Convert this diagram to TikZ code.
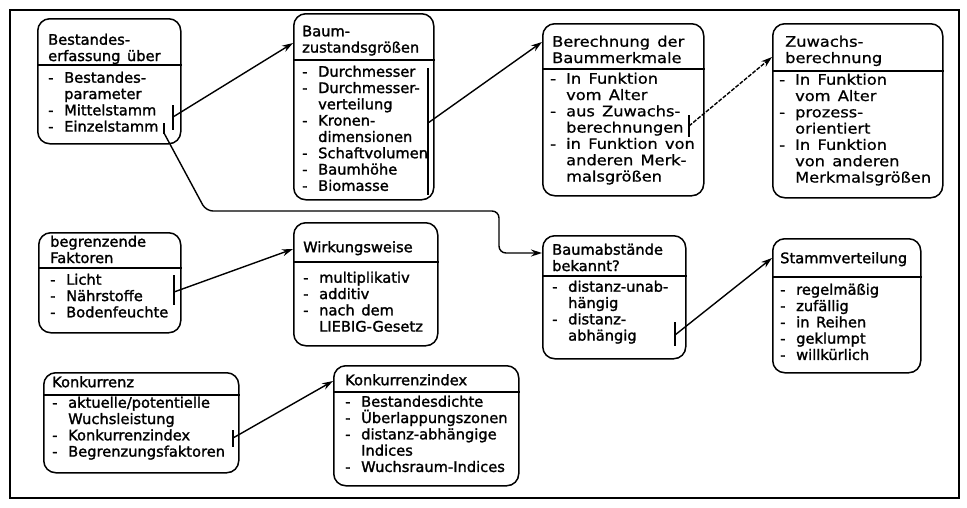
\documentclass[tikz,border=0pt]{standalone}
\usepackage{fontspec}
\setmainfont{DejaVu Sans}
\newfontfamily\regfont{DejaVu Sans}[WordSpace=1.4, FakeBold=1.6, FakeStretch=1.01]
\newfontfamily\widefont{DejaVu Sans}[WordSpace=1.4, FakeBold=0.8, FakeStretch=1.12]
\usetikzlibrary{arrows.meta}
\newcommand\myitem[1]{\makebox[16pt][l]{-}#1}
\newcommand\mycont[1]{\hspace*{16pt}#1}
\begin{document}
\begin{tikzpicture}[x=1pt,y=-1pt,
 box/.style={draw, line width=1.5pt, rounded corners=12pt, inner sep=0pt, anchor=north west},
 txt/.style={anchor=north west, yshift=11.5pt, inner sep=0pt, align=left, font=\fontsize{14.5}{16.3}\regfont, execute at begin node={\rule{0pt}{11.5pt}}},
 wide/.style={font=\fontsize{14.5}{16.3}\widefont},
 sepline/.style={line width=1.3pt},
 tickmark/.style={line width=1.5pt},
 conn/.style={line width=1.4pt, -{Stealth[length=11pt,width=7pt]}},
 faint/.style={dash pattern=on 4pt off 1.5pt},
 frame/.style={draw, line width=1.6pt, inner sep=0pt, anchor=north west}]
\useasboundingbox (0,0) rectangle (967,507);
\node[frame, minimum width=949pt, minimum height=488pt] (frm) at (9,9) {};

% boxes
\node[box, minimum width=143pt, minimum height=125pt] (b1) at (37,18) {};
\node[box, minimum width=140pt, minimum height=186pt] (b2) at (293,13) {};
\node[box, minimum width=161pt, minimum height=172pt] (b3) at (542,23) {};
\node[box, minimum width=170pt, minimum height=174pt] (b4) at (772,23) {};
\node[box, minimum width=142pt, minimum height=100pt] (b5) at (38,232) {};
\node[box, minimum width=144pt, minimum height=123pt] (b6) at (293,222) {};
\node[box, minimum width=143pt, minimum height=123pt] (b7) at (542,235) {};
\node[box, minimum width=148pt, minimum height=134pt] (b8) at (772,238) {};
\node[box, minimum width=195pt, minimum height=100pt] (b9) at (43,372) {};
\node[box, minimum width=185pt, minimum height=120pt] (b10) at (333,365) {};

% separators
\draw[sepline] (b1.west |- 0,65) -- (b1.east |- 0,65);
\draw[sepline] (b2.west |- 0,60) -- (b2.east |- 0,60);
\draw[sepline] (b3.west |- 0,69) -- (b3.east |- 0,69);
\draw[sepline] (b4.west |- 0,71) -- (b4.east |- 0,71);
\draw[sepline] (b5.west |- 0,268) -- (b5.east |- 0,268);
\draw[sepline] (b6.west |- 0,262) -- (b6.east |- 0,262);
\draw[sepline] (b7.west |- 0,276) -- (b7.east |- 0,276);
\draw[sepline] (b8.west |- 0,277) -- (b8.east |- 0,277);
\draw[sepline] (b9.west |- 0,395) -- (b9.east |- 0,395);
\draw[sepline] (b10.west |- 0,392) -- (b10.east |- 0,392);

% texts
\node[txt] (h1) at (48,45) {Bestandes-\\erfassung über};
\node[txt] (l1) at (48,83) {\myitem{Bestandes-}\\\mycont{parameter}\\\myitem{Mittelstamm}\\\myitem{Einzelstamm}};

\node[txt] (h2) at (302,37) {Baum-\\zustandsgrößen};
\node[txt] (l2) at (302,77) {\myitem{Durchmesser}\\\myitem{Durchmesser-}\\\mycont{verteilung}\\\myitem{Kronen-}\\\mycont{dimensionen}\\\myitem{Schaftvolumen}\\\myitem{Baumhöhe}\\\myitem{Biomasse}};

\node[txt, wide] (h3) at (552,47) {Berechnung der\\Baummerkmale};
\node[txt, wide] (l3) at (550,84) {\myitem{In Funktion}\\\mycont{vom Alter}\\\myitem{aus Zuwachs-}\\\mycont{berechnungen}\\\myitem{in Funktion von}\\\mycont{anderen Merk-}\\\mycont{malsgrößen}};

\node[txt, wide] (h4) at (785,47) {Zuwachs-\\berechnung};
\node[txt, wide] (l4) at (779,85) {\myitem{In Funktion}\\\mycont{vom Alter}\\\myitem{prozess-}\\\mycont{orientiert}\\\myitem{In Funktion}\\\mycont{von anderen}\\\mycont{Merkmalsgrößen}};

\node[txt] (h5) at (50,247) {begrenzende\\Faktoren};
\node[txt] (l5) at (50,285) {\myitem{Licht}\\\myitem{Nährstoffe}\\\myitem{Bodenfeuchte}};

\node[txt] (h6) at (303,252) {Wirkungsweise};
\node[txt] (l6) at (303,283) {\myitem{multiplikativ}\\\myitem{additiv}\\\myitem{nach dem}\\\mycont{LIEBIG-Gesetz}};

\node[txt] (h7) at (552,255) {Baumabstände\\bekannt?};
\node[txt] (l7) at (552,292) {\myitem{distanz-unab-}\\\mycont{hängig}\\\myitem{distanz-}\\\mycont{abhängig}};

\node[txt] (h8) at (780,263) {Stammverteilung};
\node[txt] (l8) at (780,295) {\myitem{regelmäßig}\\\myitem{zufällig}\\\myitem{in Reihen}\\\myitem{geklumpt}\\\myitem{willkürlich}};

\node[txt] (h9) at (52,387) {Konkurrenz};
\node[txt] (l9) at (52,408) {\myitem{aktuelle/potentielle}\\\mycont{Wuchsleistung}\\\myitem{Konkurrenzindex}\\\myitem{Begrenzungsfaktoren}};

\node[txt] (h10) at (345,385) {Konkurrenzindex};
\node[txt] (l10) at (345,407) {\myitem{Bestandesdichte}\\\myitem{Überlappungszonen}\\\myitem{distanz-abhängige}\\\mycont{Indices}\\\myitem{Wuchsraum-Indices}};

% tick marks
\draw[tickmark] (173,105) -- (173,130);
\draw[tickmark] (164,123) -- (164,134);
\draw[tickmark] (428,68) -- (428,195);
\draw[tickmark] (689,115) -- (689,137);
\draw[tickmark] (174,275) -- (174,305);
\draw[tickmark] (675,322) -- (675,346);
\draw[tickmark] (233,430) -- (233,447);

% connector start points
\coordinate (s1) at (173,117);
\coordinate (s1b) at (164,133);
\coordinate (s2) at (428,123);
\coordinate (s3) at (689,126);
\coordinate (s5) at (174,292);
\coordinate (s7) at (675,335);
\coordinate (s9) at (233,438);

% connectors
\draw[conn] (s1) -- (b2.west |- 0,43);
\draw[conn] (s2) -- (b3.west |- 0,42);
\draw[conn, faint] (s3) -- (b4.west |- 0,57);
\draw[conn] (s5) -- (b6.west |- 0,249);
\draw[conn, rounded corners=7pt] (s1b) -- (206,211) -- (499,211) -- (499,253) -- (b7.west |- 0,253);
\draw[conn] (s7) -- (b8.west |- 0,258);
\draw[conn] (s9) -- (b10.west |- 0,381);
\end{tikzpicture}
\end{document}
